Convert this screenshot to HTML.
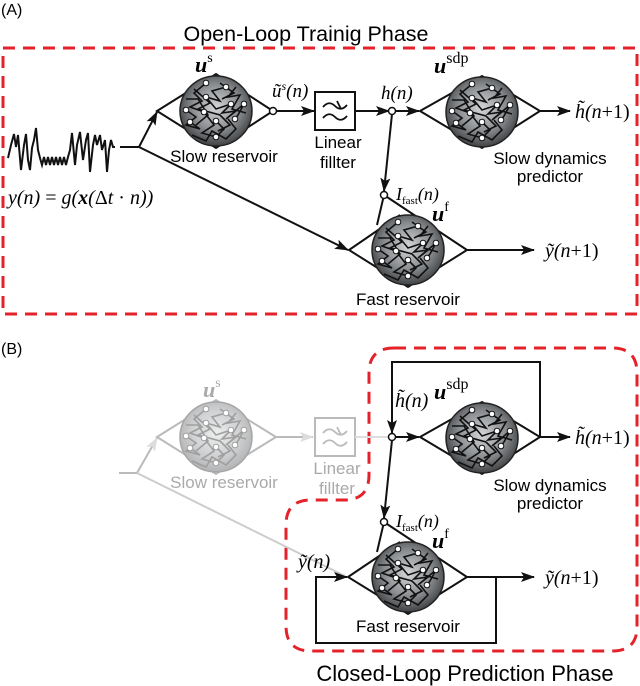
<!DOCTYPE html>
<html><head><meta charset="utf-8"><style>
html,body{margin:0;padding:0;background:#fff;}
svg{display:block;}
.s{font-family:"Liberation Sans",sans-serif;}
.m{font-family:"Liberation Serif",serif;font-style:italic;}
.b{font-family:"Liberation Serif",serif;font-weight:bold;font-style:italic;}
.r{font-family:"Liberation Serif",serif;}
</style></head><body>
<svg width="640" height="686" viewBox="0 0 640 686" xmlns="http://www.w3.org/2000/svg">
<defs>
<radialGradient id="g" cx="50%" cy="45%" r="55%">
<stop offset="0" stop-color="#d4d6d8"/><stop offset="0.6" stop-color="#8a8d90"/><stop offset="1" stop-color="#404244"/>
</radialGradient>
<marker id="a" markerWidth="14" markerHeight="10" refX="13" refY="5" orient="auto" markerUnits="userSpaceOnUse">
<path d="M0,0 L14,5 L0,10 L3,5 Z" fill="#111"/></marker>
<marker id="ag" markerWidth="14" markerHeight="10" refX="13" refY="5" orient="auto" markerUnits="userSpaceOnUse">
<path d="M0,0 L14,5 L0,10 L3,5 Z" fill="#aaa"/></marker>
<g id="res">
<ellipse cx="0" cy="0" rx="36" ry="35" fill="url(#g)" stroke="#222" stroke-width="1.5"/>
<g stroke="#111" stroke-width="1.6" fill="none">
<polyline points="-10,-28 -22,-18 -14,-10 -26,-4 -12,1"/>
<polyline points="10,-24 -4,-20 4,-10 -10,-14 0,-2 15,-7"/>
<polyline points="-30,-1 -20,6 -30,14 -16,18 -26,11"/>
<polyline points="-12,1 -2,14 -14,22 0,26 8,18 0,10"/>
<polyline points="15,-7 6,2 20,0 10,8 28,-7 22,4 19,8"/>
<polyline points="-22,-22 -6,-8 -18,-2 4,4 14,14 2,20"/>
<polyline points="20,-24 12,-14 24,-16 16,-2 30,2"/>
<polyline points="-24,24 -10,30 -4,20 10,28 20,18 12,8"/>
<polyline points="-30,-12 -18,-12 -8,4 -20,14"/>
<polyline points="4,-28 18,-18 6,-12"/>
</g>
<g fill="#fff" stroke="#111" stroke-width="1">
<circle cx="-10" cy="-28" r="2.8"/><circle cx="10" cy="-24" r="2.8"/><circle cx="-10" cy="-14" r="2.8"/>
<circle cx="-30" cy="-1" r="2.8"/><circle cx="-12" cy="1" r="2.8"/><circle cx="15" cy="-7" r="2.8"/>
<circle cx="28" cy="-7" r="2.8"/><circle cx="19" cy="8" r="2.8"/><circle cx="-26" cy="11" r="2.8"/>
<circle cx="0" cy="10" r="2.8"/><circle cx="0" cy="26" r="2.8"/>
</g>
</g>
<g id="filt">
<rect x="0" y="0" width="40" height="38" fill="#fff" stroke-width="2"/>
<path d="M8,15 Q14,8 20,14 T32,13 M8,26 Q14,19 20,25 T32,24 M22,9 L26,17" fill="none" stroke-width="1.8"/>
</g>
</defs>

<!-- ===== (A) ===== -->
<text x="1" y="15" class="s" font-size="16">(A)</text>
<text x="306" y="41" class="s" font-size="21.5" text-anchor="middle">Open-Loop Trainig Phase</text>
<rect x="3" y="48" width="634" height="266" fill="none" stroke="#e4222a" stroke-width="3" stroke-dasharray="12,8"/>

<polyline fill="none" stroke="#111" stroke-width="2" points="8,158 11,145 14,134 16,147 18,135 21,170 24,145 26,134 28,160 30,170 32,148 34,140 36,128 38,150 40,158 42,165 44,157 46,165 48,157 50,165 52,157 54,165 56,157 58,165 60,157 62,165 64,157 66,165 68,157 70,150 72,133 75,165 77,145 80,132 83,160 86,140 88,133 90,172 93,145 95,135 97,145 100,135 102,150 105,140 107,172 109,150 111,140 113,147 115,147"/>
<line x1="120" y1="147" x2="139" y2="147" stroke="#111" stroke-width="2"/>
<line x1="139" y1="147" x2="157" y2="112" stroke="#111" stroke-width="2" marker-end="url(#a)"/>
<line x1="139" y1="147" x2="348" y2="250" stroke="#111" stroke-width="2" marker-end="url(#a)"/>
<text x="8" y="204" class="m" font-size="20">y(n) <tspan font-style="normal">=</tspan> g(<tspan class="b">x</tspan>(<tspan font-style="normal">Δ</tspan>t <tspan font-style="normal">·</tspan> n))</text>

<!-- slow reservoir -->
<polygon points="157,111 216,74 273,111 216,148" fill="none" stroke="#111" stroke-width="2"/>
<use href="#res" x="216" y="111"/>
<circle cx="273" cy="111" r="3.5" fill="#fff" stroke="#111" stroke-width="1.5"/>
<text x="195" y="72" class="b" font-size="22">u<tspan class="r" font-weight="normal" font-style="normal" font-size="14" dy="-10">s</tspan></text>
<text x="224" y="162" class="s" font-size="17" text-anchor="middle">Slow reservoir</text>
<line x1="276" y1="111" x2="314" y2="111" stroke="#111" stroke-width="2" marker-end="url(#a)"/>
<text x="272" y="97" class="m" font-size="19">ũ<tspan font-size="12" dy="-7">s</tspan><tspan dy="7">(n)</tspan></text>
<use href="#filt" x="315" y="92" stroke="#111"/>
<text x="338" y="148" class="s" font-size="17" text-anchor="middle">Linear</text>
<text x="338" y="168" class="s" font-size="17" text-anchor="middle">fillter</text>
<line x1="355" y1="111" x2="389" y2="111" stroke="#111" stroke-width="2" marker-end="url(#a)"/>
<text x="381" y="99" class="m" font-size="19">h(n)</text>
<line x1="395" y1="111" x2="419" y2="111" stroke="#111" stroke-width="2" marker-end="url(#a)"/>
<line x1="392" y1="114" x2="384" y2="191" stroke="#111" stroke-width="2" marker-end="url(#a)"/>
<circle cx="392" cy="111" r="3.5" fill="#fff" stroke="#111" stroke-width="1.5"/>

<!-- sdp -->
<polygon points="420,111 482,76 540,111 482,148" fill="none" stroke="#111" stroke-width="2"/>
<use href="#res" x="482" y="112"/>
<text x="434" y="73" class="b" font-size="22">u<tspan class="r" font-weight="normal" font-style="normal" font-size="16" dy="-10">sdp</tspan></text>
<line x1="540" y1="111" x2="570" y2="111" stroke="#111" stroke-width="2" marker-end="url(#a)"/>
<text x="575" y="118" class="m" font-size="20">h̃(n<tspan font-style="normal">+1)</tspan></text>
<text x="550" y="164" class="s" font-size="17" text-anchor="middle">Slow dynamics</text>
<text x="550" y="182" class="s" font-size="17" text-anchor="middle">predictor</text>

<!-- fast -->
<polyline points="384,195 467,250 408,287 349,250 400,215" fill="none" stroke="#111" stroke-width="2"/>
<line x1="384" y1="195" x2="377" y2="225" stroke="#111" stroke-width="2"/>
<use href="#res" x="408" y="250"/>
<circle cx="384" cy="195" r="3.5" fill="#fff" stroke="#111" stroke-width="1.5"/>
<text x="396" y="200" class="m" font-size="18">I<tspan font-style="normal" font-size="11" dy="4">fast</tspan><tspan dy="-4">(n)</tspan></text>
<text x="432" y="221" class="b" font-size="22">u<tspan class="r" font-weight="normal" font-style="normal" font-size="14" dy="-10">f</tspan></text>
<line x1="467" y1="250" x2="534" y2="250" stroke="#111" stroke-width="2" marker-end="url(#a)"/>
<text x="545" y="257" class="m" font-size="20">ỹ(n<tspan font-style="normal">+1)</tspan></text>
<text x="408" y="305" class="s" font-size="17" text-anchor="middle">Fast reservoir</text>

<!-- ===== (B) ===== -->
<text x="1" y="354" class="s" font-size="16">(B)</text>
<path d="M394,348 L612,348 Q637,348 637,373 L637,627 Q637,651 612,651 L311,651 Q286,651 286,626 L286,525 Q286,500 311,500 L344,500 Q369,500 369,475 L369,373 Q369,348 394,348 Z" fill="none" stroke="#e4222a" stroke-width="3" stroke-dasharray="12,8"/>

<!-- gray part -->
<g opacity="0.4">
<line x1="119" y1="473" x2="137" y2="473" stroke="#555" stroke-width="2"/>
<line x1="137" y1="473" x2="157" y2="438" stroke="#555" stroke-width="2" marker-end="url(#ag)"/>
<polygon points="157,437 216,400 276,437 216,474" fill="none" stroke="#555" stroke-width="2"/>
<use href="#res" x="216" y="437"/>
<line x1="276" y1="437" x2="313" y2="437" stroke="#555" stroke-width="2" marker-end="url(#ag)"/>
<use href="#filt" x="315" y="418" stroke="#555"/>
</g>
<line x1="137" y1="473" x2="345" y2="576" stroke="#ccc" stroke-width="2"/>
<line x1="355" y1="437" x2="388" y2="437" stroke="#ddd" stroke-width="2"/>
<text x="203" y="397" class="b" font-size="22" fill="#aaa">u<tspan class="r" font-weight="normal" font-style="normal" font-size="14" dy="-10">s</tspan></text>
<text x="224" y="488" class="s" font-size="17" text-anchor="middle" fill="#aaa">Slow reservoir</text>
<text x="337" y="474" class="s" font-size="17" text-anchor="middle" fill="#aaa">Linear</text>
<text x="337" y="494" class="s" font-size="17" text-anchor="middle" fill="#aaa">fillter</text>

<!-- sdp B -->
<polyline points="540,437 540,362 392,362 392,433" fill="none" stroke="#111" stroke-width="2" marker-end="url(#a)"/>
<text x="395" y="407" class="m" font-size="20">h̃(n)</text>
<line x1="395" y1="437" x2="419" y2="437" stroke="#111" stroke-width="2" marker-end="url(#a)"/>
<line x1="392" y1="440" x2="384" y2="518" stroke="#111" stroke-width="2" marker-end="url(#a)"/>
<circle cx="392" cy="437" r="3.5" fill="#fff" stroke="#111" stroke-width="1.5"/>
<polygon points="420,437 482,402 540,437 482,474" fill="none" stroke="#111" stroke-width="2"/>
<use href="#res" x="482" y="438"/>
<text x="434" y="399" class="b" font-size="22">u<tspan class="r" font-weight="normal" font-style="normal" font-size="16" dy="-10">sdp</tspan></text>
<line x1="540" y1="437" x2="570" y2="437" stroke="#111" stroke-width="2" marker-end="url(#a)"/>
<text x="575" y="444" class="m" font-size="20">h̃(n<tspan font-style="normal">+1)</tspan></text>
<text x="550" y="491" class="s" font-size="17" text-anchor="middle">Slow dynamics</text>
<text x="550" y="509" class="s" font-size="17" text-anchor="middle">predictor</text>

<!-- fast B -->
<polyline points="384,522 467,577 408,614 348,577 400,542" fill="none" stroke="#111" stroke-width="2"/>
<line x1="384" y1="522" x2="377" y2="552" stroke="#111" stroke-width="2"/>
<use href="#res" x="408" y="577"/>
<circle cx="384" cy="522" r="3.5" fill="#fff" stroke="#111" stroke-width="1.5"/>
<text x="396" y="527" class="m" font-size="18">I<tspan font-style="normal" font-size="11" dy="4">fast</tspan><tspan dy="-4">(n)</tspan></text>
<text x="432" y="548" class="b" font-size="22">u<tspan class="r" font-weight="normal" font-style="normal" font-size="14" dy="-10">f</tspan></text>
<line x1="467" y1="577" x2="534" y2="577" stroke="#111" stroke-width="2" marker-end="url(#a)"/>
<polyline points="496,577 496,643 316,643 316,577 347,577" fill="none" stroke="#111" stroke-width="2" marker-end="url(#a)"/>
<text x="298" y="568" class="m" font-size="20">ỹ(n)</text>
<text x="545" y="584" class="m" font-size="20">ỹ(n<tspan font-style="normal">+1)</tspan></text>
<text x="408" y="632" class="s" font-size="17" text-anchor="middle">Fast reservoir</text>
<text x="465" y="681" class="s" font-size="22" text-anchor="middle">Closed-Loop Prediction Phase</text>
</svg>
</body></html>
